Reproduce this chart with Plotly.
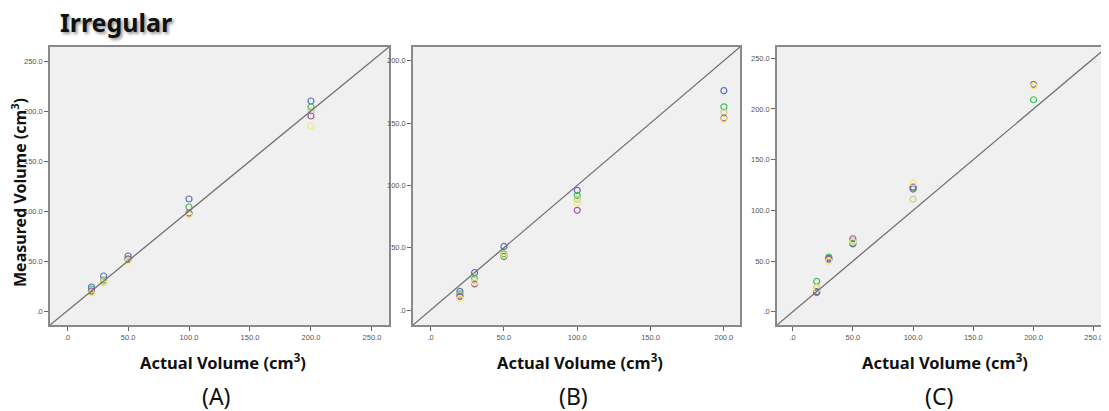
import plotly.graph_objects as go

actual = [20, 30, 50, 100, 200]

# Panel A measured values per series
a_blue   = [24, 35, 55, 112, 210]
a_green  = [22, 31, 52, 104, 204]
a_tan    = [19, 30, 51, 97, 200]
a_purple = [20, 29, 52, 98, 195]
a_yellow = [18, 29, 50, 96, 185]

# Panel B
b_blue   = [15, 30, 51, 96, 176]
b_green  = [13, 25, 45, 92, 163]
b_tan    = [12, 24, 44, 89, 159]
b_purple = [11, 21, 43, 80, 154]
b_yellow = [9, 22, 44, 86, 153]

# Panel C
c_blue   = [20, 53, 67, 121, 224]
c_green  = [30, 54, 68, 122, 209]
c_tan    = [24, 51, 70, 111, 223]
c_purple = [19, 52, 72, 123, 224]
c_yellow = [22, 50, 69, 127, 223]

series_names = ["Blue", "Green", "Tan", "Purple", "Yellow"]
series_colors = ["#5b6fc0", "#3cc05a", "#cfc890", "#a055a8", "#f0ec70"]

panel_ranges = [[-14, 264], [-12, 211], [-13, 261]]
panel_ticks = [[0, 50, 100, 150, 200, 250], [0, 50, 100, 150, 200], [0, 50, 100, 150, 200, 250]]
panel_labels = ["(A)", "(B)", "(C)"]

OFF = 8  # browser body margin
W, H = 1109 - OFF, 411 - OFF
x_page = [(50, 389), (413, 740), (777, 1107)]
y_page = (47, 325)

def px(p):
    return (p - OFF) / W

def py(p):
    return 1 - (p - OFF) / H

panels = [
    [a_blue, a_green, a_tan, a_purple, a_yellow],
    [b_blue, b_green, b_tan, b_purple, b_yellow],
    [c_blue, c_green, c_tan, c_purple, c_yellow],
]

fig = go.Figure()

def fmt(v):
    return ".0" if v == 0 else f"{v:.1f}"

for i, data in enumerate(panels):
    xa = "x" if i == 0 else f"x{i+1}"
    ya = "y" if i == 0 else f"y{i+1}"
    for s, vals in enumerate(data):
        fig.add_trace(go.Scatter(
            x=actual, y=vals, mode="markers", name=series_names[s],
            showlegend=False, xaxis=xa, yaxis=ya,
            marker=dict(symbol="circle-open", size=6, color=series_colors[s],
                        line=dict(width=1.2, color=series_colors[s])),
        ))
    r = panel_ranges[i]
    fig.add_shape(type="line", xref=xa, yref=ya, x0=r[0], y0=r[0], x1=r[1], y1=r[1],
                  line=dict(color="#707070", width=1.3), layer="above")
    axis_common = dict(
        range=r, showgrid=False, zeroline=False, showline=True, mirror=True,
        linecolor="#8a8a8a", linewidth=1.5, ticks="outside", ticklen=4,
        tickcolor="#666", tickwidth=1, automargin=False,
        tickvals=panel_ticks[i], ticktext=[fmt(v) for v in panel_ticks[i]],
        tickfont=dict(size=7.5, color="#555555", family="Liberation Sans"),
    )
    key = "" if i == 0 else str(i + 1)
    fig.update_layout(**{
        f"xaxis{key}": dict(domain=[px(x_page[i][0]), px(x_page[i][1])], anchor=ya, **axis_common),
        f"yaxis{key}": dict(domain=[py(y_page[1]), py(y_page[0])], anchor=xa, **axis_common),
    })
    cx_page = (x_page[i][0] + x_page[i][1]) / 2
    fig.add_annotation(text="Actual Volume (cm<sup>3</sup>)", x=px(cx_page + 3), y=py(362),
                       xanchor="center", yanchor="middle",
                       xref="paper", yref="paper", showarrow=False,
                       font=dict(size=16.5, family="Noto Sans", color="#111", weight="bold"))
    fig.add_annotation(text=panel_labels[i], x=px(cx_page - 3), y=py(396),
                       xanchor="center", yanchor="middle",
                       xref="paper", yref="paper", showarrow=False,
                       font=dict(size=23, family="Noto Sans", color="#111"))

fig.add_annotation(text="Measured Volume (cm<sup>3</sup>)", x=px(19), y=py(193),
                   xanchor="center", yanchor="middle",
                   xref="paper", yref="paper", showarrow=False, textangle=-90,
                   font=dict(size=16, family="Noto Sans", color="#111", weight="bold"))
fig.add_annotation(text="Irregular", x=px(58), y=py(22), xanchor="left", yanchor="middle",
                   xref="paper", yref="paper", showarrow=False,
                   font=dict(size=25, family="Noto Sans", color="#111", weight="bold",
                             shadow="2px 2px 3px #999"))

fig.update_layout(width=W, height=H, margin=dict(l=0, r=0, t=0, b=0, autoexpand=False),
                  paper_bgcolor="white", plot_bgcolor="#f0f0f0")

fig.write_html("out.html")
